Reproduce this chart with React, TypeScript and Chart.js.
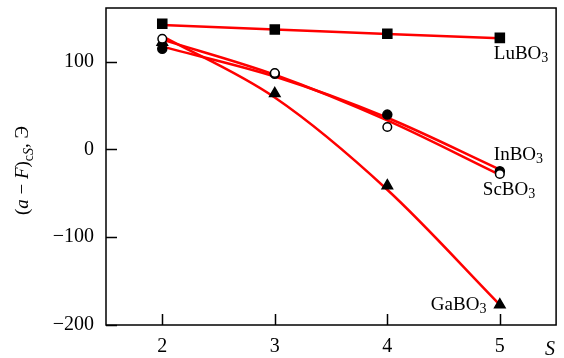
import React, { useEffect, useRef } from "react";
import { Chart, registerables } from "chart.js";
Chart.register(...registerables);

const sValues = [2, 3, 4, 5];
const xTicks = [2, 3, 4, 5];
const yTicks = [-200, -100, 0, 100];

// measured points
const luPoints = [143, 136.5, 131.6, 127];
const inPoints = [114.5, 86, 39.6, -25];
const scPoints = [126, 87, 25.5, -28];
const gaPoints = [122, 63.5, -41.4, -177];

// fitted curves
const luFit = [141.5, 136.5, 131.5, 126.5];
const inFit = [117, 83, 36, -23];
const scFit = [125, 85, 33, -29];
const gaFit = [129, 59, -46, -177];

const compoundNames = ["LuBO", "InBO", "ScBO", "GaBO"];

const SERIF = "'Liberation Serif', 'DejaVu Serif', serif";

const toXY = (vals: number[]) => vals.map((v, i) => ({ x: sValues[i], y: v }));

const labelPlugin = {
  id: "decorations",
  afterDraw(chart: any) {
    const { ctx, chartArea: a, scales } = chart;
    const xs = scales.x;
    const ys = scales.y;
    ctx.save();
    // frame
    ctx.strokeStyle = "#000";
    ctx.lineWidth = 1.5;
    ctx.strokeRect(a.left, a.top, a.right - a.left, a.bottom - a.top);
    // inward ticks
    ctx.beginPath();
    xTicks.forEach((v) => {
      const px = Math.round(xs.getPixelForValue(v)) + 0.5;
      ctx.moveTo(px, a.bottom);
      ctx.lineTo(px, a.bottom - 11);
    });
    yTicks.forEach((v) => {
      const py = Math.round(ys.getPixelForValue(v)) + 0.5;
      ctx.moveTo(a.left, py);
      ctx.lineTo(a.left + 11, py);
    });
    ctx.stroke();

    // compound labels
    const drawChem = (name: string, left: number, base: number) => {
      ctx.fillStyle = "#000";
      ctx.textAlign = "left";
      ctx.textBaseline = "alphabetic";
      ctx.font = `19px ${SERIF}`;
      ctx.fillText(name, left, base);
      const w = ctx.measureText(name).width;
      ctx.font = `14px ${SERIF}`;
      ctx.fillText("3", left + w, base + 3);
    };
    const px5 = xs.getPixelForValue(5);
    drawChem(compoundNames[0], px5 - 6, ys.getPixelForValue(luPoints[3]) + 21);
    drawChem(compoundNames[1], px5 - 6, ys.getPixelForValue(inPoints[3]) - 11);
    drawChem(compoundNames[2], px5 - 17, ys.getPixelForValue(scPoints[3]) + 21);
    drawChem(compoundNames[3], px5 - 69, ys.getPixelForValue(gaPoints[3]) + 5);

    // x-axis title "S"
    ctx.font = `italic 20px ${SERIF}`;
    ctx.textAlign = "left";
    ctx.fillText("S", a.right - 11, a.bottom + 30);

    // y-axis title
    ctx.translate(28, (a.top + a.bottom) / 2 + 4);
    ctx.rotate(-Math.PI / 2);
    const parts: [string, string, number][] = [
      ["(", `19px ${SERIF}`, 0],
      ["a", `italic 19px ${SERIF}`, 0],
      [" \u2212 ", `19px ${SERIF}`, 0],
      ["F", `italic 19px ${SERIF}`, 0],
      [")", `19px ${SERIF}`, 0],
      ["c", `14px ${SERIF}`, 5],
      ["S", `italic 14px ${SERIF}`, 5],
      [", \u042D", `19px ${SERIF}`, 0],
    ];
    let total = 0;
    parts.forEach(([t, f]) => {
      ctx.font = f;
      total += ctx.measureText(t).width;
    });
    let x = -total / 2;
    ctx.textAlign = "left";
    parts.forEach(([t, f, dy]) => {
      ctx.font = f;
      ctx.fillText(t, x, dy);
      x += ctx.measureText(t).width;
    });
    ctx.restore();
  },
};

const zeroPad = (s: any) => {
  s.paddingTop = 0;
  s.paddingBottom = 0;
  s.paddingLeft = 0;
  s.paddingRight = 0;
};

export default function App() {
  const ref = useRef<HTMLCanvasElement | null>(null);
  useEffect(() => {
    document.body.style.margin = "0";
    const canvas = ref.current;
    if (!canvas) return;
    const lineDs = (data: number[]) => ({
      type: "line" as const,
      data: toXY(data),
      borderColor: "#ff0000",
      borderWidth: 2.5,
      pointRadius: 0,
      tension: 0.4,
      cubicInterpolationMode: "monotone" as const,
      fill: false,
      order: 2,
    });
    const ptDs = (data: number[], style: string, radius: number, bg: string) => ({
      type: "scatter" as const,
      data: toXY(data),
      pointStyle: style,
      pointRadius: radius,
      pointBackgroundColor: bg,
      pointBorderColor: "#000",
      pointBorderWidth: 1.5,
      showLine: false,
      order: 1,
    });
    const chart = new Chart(canvas, {
      type: "scatter",
      data: {
        datasets: [
          lineDs(luFit),
          lineDs(inFit),
          lineDs(scFit),
          lineDs(gaFit),
          ptDs(luPoints, "rect", 6.4, "#000"),
          ptDs(gaPoints, "triangle", 6, "#000"),
          ptDs(inPoints, "circle", 4.5, "#000"),
          { ...ptDs(scPoints, "circle", 4.3, "#fff"), order: 0 },
        ] as any,
      },
      options: {
        responsive: false,
        animation: false,
        layout: { padding: { top: 8, right: 5, left: 0, bottom: 0 } },
        plugins: { legend: { display: false }, tooltip: { enabled: false } },
        scales: {
          x: {
            type: "linear",
            min: 1.5,
            max: 5.5,
            afterBuildTicks: (s: any) => {
              s.ticks = xTicks.map((v) => ({ value: v }));
            },
            afterFit: (s: any) => {
              s.height = 33;
              zeroPad(s);
            },
            grid: { display: false, drawTicks: false },
            border: { display: false },
            ticks: {
              color: "#000",
              font: { family: SERIF, size: 20 },
              padding: 10,
              maxRotation: 0,
              callback: (v: any) => String(v),
            },
          },
          y: {
            type: "linear",
            min: -200,
            max: 161,
            afterBuildTicks: (s: any) => {
              s.ticks = yTicks.map((v) => ({ value: v }));
            },
            afterFit: (s: any) => {
              s.width = 106;
              zeroPad(s);
            },
            grid: { display: false, drawTicks: false },
            border: { display: false },
            ticks: {
              color: "#000",
              font: { family: SERIF, size: 20 },
              padding: 12,
              callback: (v: any) => (v < 0 ? "\u2212" + Math.abs(v) : String(v)),
            },
          },
        },
      } as any,
      plugins: [labelPlugin],
    });
    return () => chart.destroy();
  }, []);
  return (
    <canvas ref={ref} width={564} height={358} style={{ display: "block", width: 564, height: 358 }} />
  );
}
